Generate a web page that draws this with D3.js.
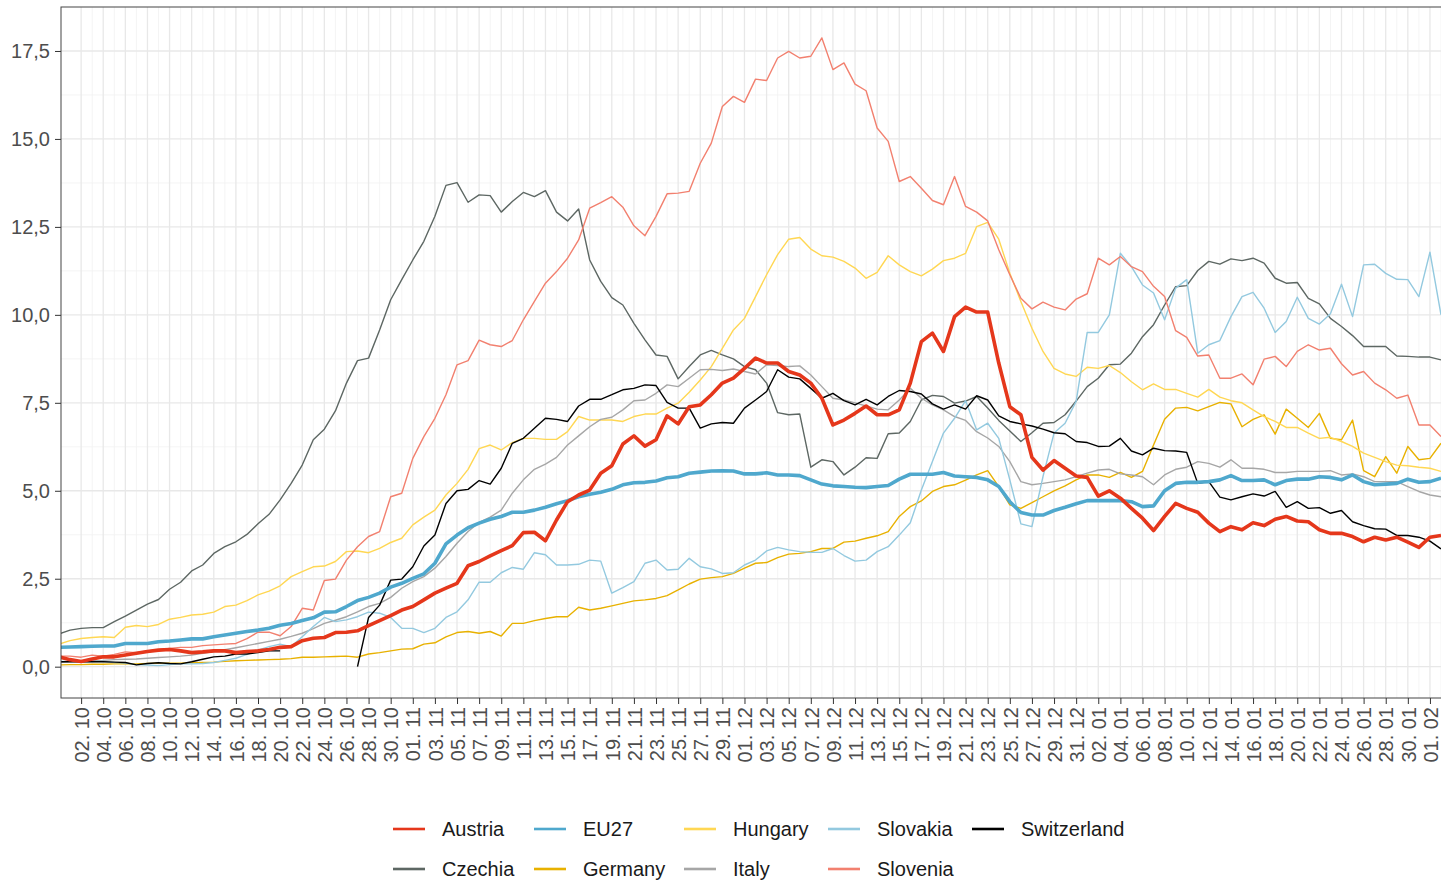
<!DOCTYPE html>
<html>
<head>
<meta charset="utf-8">
<title>chart</title>
<script src="https://cdn.jsdelivr.net/npm/d3@7"></script>
<style>
  body { margin: 0; background: #fff; font-family: "Liberation Sans", Arial, sans-serif; }
  svg { display: block; }
</style>
</head>
<body>
<script>
// ---- data (one value per day, 30.09 to 02.02) ----
var startDay = new Date(Date.UTC(2020, 8, 30));
var endDay = new Date(Date.UTC(2021, 1, 2));
var days = d3.utcDay.range(startDay, d3.utcDay.offset(endDay, 1));
var yTicks = [0, 2.5, 5, 7.5, 10, 12.5, 15, 17.5];
var yMinor = [1.25, 3.75, 6.25, 8.75, 11.25, 13.75, 16.25];

var austria = [
0.28,0.2,0.15,0.22,0.28,0.28,0.33,0.38,0.43,0.47,
0.49,0.45,0.4,0.42,0.45,0.45,0.4,0.43,0.45,0.49,
0.55,0.57,0.74,0.81,0.83,0.97,0.98,1.02,1.17,1.31,
1.45,1.61,1.71,1.9,2.09,2.23,2.37,2.87,2.99,3.15,
3.3,3.44,3.81,3.82,3.58,4.17,4.69,4.88,5.02,5.5,
5.71,6.33,6.56,6.27,6.45,7.13,6.9,7.39,7.44,7.73,
8.06,8.2,8.48,8.77,8.63,8.63,8.39,8.29,8.06,7.63,
6.87,7.01,7.2,7.41,7.16,7.16,7.3,8.06,9.24,9.48,
8.96,9.95,10.22,10.08,10.08,8.63,7.39,7.16,5.95,5.59,
5.86,5.64,5.42,5.38,4.85,5.0,4.79,4.5,4.22,3.87,
4.27,4.64,4.5,4.39,4.08,3.84,3.98,3.89,4.09,4.01,
4.19,4.27,4.14,4.12,3.89,3.79,3.79,3.7,3.55,3.68,
3.6,3.68,3.54,3.39,3.68,3.73];

var czechia = [
0.93,1.04,1.09,1.11,1.11,1.28,1.44,1.61,1.78,1.91,
2.2,2.4,2.72,2.89,3.22,3.41,3.55,3.76,4.06,4.33,
4.74,5.21,5.73,6.45,6.75,7.27,8.06,8.7,8.77,9.57,
10.43,11.0,11.56,12.09,12.8,13.68,13.76,13.2,13.41,13.39,
12.92,13.22,13.48,13.36,13.53,12.92,12.67,13.01,11.56,10.95,
10.49,10.28,9.76,9.29,8.86,8.82,8.18,8.53,8.86,8.99,
8.86,8.75,8.53,8.44,8.06,7.22,7.16,7.18,5.67,5.88,
5.83,5.45,5.67,5.94,5.92,6.62,6.64,6.97,7.58,7.71,
7.68,7.49,7.55,7.68,7.35,7.0,6.7,6.4,6.65,6.92,
6.94,7.16,7.55,7.96,8.2,8.58,8.6,8.91,9.38,9.72,
10.28,10.8,10.83,11.26,11.52,11.44,11.59,11.54,11.61,11.47,
11.04,10.9,10.92,10.47,10.31,9.9,9.67,9.41,9.1,9.1,
9.1,8.83,8.82,8.8,8.8,8.72];

var eu27 = [
0.55,0.56,0.57,0.58,0.59,0.59,0.66,0.66,0.66,0.71,
0.73,0.76,0.79,0.79,0.85,0.9,0.95,1.0,1.04,1.09,
1.18,1.23,1.31,1.39,1.55,1.56,1.71,1.88,1.97,2.09,
2.26,2.37,2.51,2.64,2.94,3.49,3.74,3.95,4.08,4.19,
4.27,4.39,4.39,4.45,4.53,4.63,4.72,4.83,4.9,4.96,
5.04,5.17,5.23,5.24,5.28,5.37,5.4,5.5,5.53,5.56,
5.57,5.56,5.48,5.48,5.51,5.45,5.45,5.43,5.31,5.19,
5.14,5.12,5.1,5.09,5.12,5.15,5.33,5.47,5.47,5.47,
5.52,5.42,5.4,5.38,5.31,5.12,4.69,4.38,4.31,4.31,
4.44,4.53,4.63,4.72,4.72,4.72,4.72,4.69,4.55,4.57,
5.0,5.21,5.24,5.24,5.26,5.31,5.43,5.29,5.29,5.31,
5.17,5.29,5.33,5.33,5.4,5.38,5.31,5.45,5.26,5.17,
5.19,5.21,5.33,5.24,5.26,5.36];

var germany = [
0.05,0.06,0.06,0.07,0.07,0.08,0.09,0.08,0.09,0.1,
0.1,0.1,0.11,0.12,0.13,0.15,0.17,0.18,0.19,0.2,
0.21,0.23,0.27,0.27,0.28,0.29,0.3,0.27,0.36,0.4,
0.45,0.5,0.51,0.64,0.68,0.85,0.97,1.0,0.95,1.0,
0.87,1.23,1.23,1.31,1.37,1.42,1.42,1.69,1.61,1.66,
1.73,1.8,1.87,1.9,1.94,2.02,2.18,2.35,2.49,2.53,
2.56,2.65,2.8,2.94,2.96,3.1,3.2,3.22,3.27,3.36,
3.36,3.54,3.57,3.65,3.72,3.84,4.27,4.55,4.71,4.98,
5.12,5.17,5.3,5.45,5.57,5.12,4.6,4.5,4.66,4.83,
5.0,5.14,5.31,5.45,5.45,5.38,5.52,5.38,5.55,6.3,
7.03,7.35,7.37,7.27,7.39,7.51,7.47,6.82,7.03,7.16,
6.61,7.32,7.06,6.8,7.2,6.49,6.45,7.01,5.57,5.4,
5.97,5.5,6.26,5.88,5.92,6.35];

var hungary = [
0.64,0.74,0.8,0.83,0.85,0.83,1.12,1.17,1.14,1.2,
1.35,1.4,1.47,1.49,1.55,1.71,1.75,1.88,2.04,2.15,
2.3,2.56,2.7,2.84,2.86,2.99,3.27,3.29,3.24,3.36,
3.53,3.65,4.03,4.25,4.45,4.88,5.21,5.61,6.2,6.3,
6.16,6.37,6.49,6.49,6.46,6.46,6.68,7.11,7.01,7.01,
7.01,6.97,7.11,7.18,7.18,7.35,7.49,7.8,8.15,8.53,
9.05,9.57,9.9,10.52,11.14,11.71,12.15,12.2,11.87,11.68,
11.64,11.52,11.33,11.04,11.21,11.68,11.42,11.23,11.11,11.3,
11.54,11.61,11.75,12.51,12.63,12.15,11.18,10.38,9.62,8.96,
8.48,8.32,8.25,8.51,8.48,8.56,8.36,8.1,7.87,8.04,
7.88,7.88,7.77,7.66,7.88,7.66,7.56,7.5,7.3,7.11,
6.97,6.8,6.8,6.64,6.49,6.52,6.4,6.26,6.07,5.95,
5.83,5.73,5.71,5.67,5.64,5.55];

var italy = [
0.12,0.14,0.16,0.17,0.18,0.2,0.21,0.22,0.24,0.26,
0.28,0.3,0.33,0.38,0.43,0.48,0.54,0.6,0.66,0.72,
0.78,0.86,0.95,1.08,1.23,1.32,1.42,1.56,1.71,1.8,
1.97,2.23,2.42,2.56,2.8,3.13,3.51,3.84,4.1,4.25,
4.45,4.93,5.31,5.61,5.76,5.95,6.3,6.56,6.82,7.03,
7.09,7.3,7.56,7.58,7.77,8.01,7.96,8.2,8.44,8.45,
8.42,8.46,8.39,8.32,8.58,8.56,8.53,8.55,8.29,7.96,
7.63,7.58,7.5,7.41,7.32,7.3,7.58,7.91,7.63,7.44,
7.3,7.11,7.0,6.68,6.5,6.26,5.83,5.26,5.17,5.21,
5.26,5.31,5.4,5.5,5.59,5.61,5.48,5.45,5.4,5.17,
5.45,5.61,5.67,5.83,5.78,5.67,5.88,5.64,5.64,5.61,
5.52,5.52,5.55,5.55,5.55,5.57,5.45,5.48,5.4,5.26,
5.26,5.26,5.12,4.98,4.88,4.83];

var slovakia = [
0.15,0.15,0.14,0.14,0.15,0.12,0.1,0.06,0.05,0.03,
0.06,0.08,0.08,0.09,0.12,0.18,0.24,0.35,0.47,0.57,
0.64,0.57,0.85,1.14,1.4,1.28,1.33,1.42,1.55,1.52,
1.4,1.09,1.09,0.97,1.09,1.4,1.56,1.9,2.4,2.4,
2.67,2.82,2.77,3.24,3.18,2.89,2.89,2.91,3.03,3.0,
2.09,2.25,2.42,2.94,3.03,2.75,2.77,3.08,2.84,2.78,
2.65,2.67,2.89,3.03,3.29,3.39,3.32,3.27,3.25,3.25,
3.36,3.16,3.0,3.03,3.27,3.41,3.74,4.09,5.02,5.83,
6.64,7.06,7.56,6.73,6.92,6.49,5.31,4.06,3.98,5.4,
6.64,6.92,7.54,9.5,9.5,10.0,11.75,11.37,10.85,10.62,
9.86,10.76,11.0,8.91,9.15,9.27,9.95,10.52,10.64,10.19,
9.5,9.81,10.5,9.9,9.74,10.03,10.87,9.95,11.42,11.44,
11.18,11.01,11.0,10.52,11.78,10.0];

var slovenia = [
0.3,0.3,0.27,0.33,0.3,0.35,0.42,0.4,0.45,0.48,
0.52,0.55,0.55,0.6,0.62,0.64,0.66,0.8,0.98,0.98,
0.88,1.14,1.66,1.61,2.45,2.49,3.03,3.41,3.7,3.84,
4.83,4.93,5.92,6.54,7.06,7.73,8.58,8.7,9.28,9.15,
9.1,9.27,9.86,10.38,10.9,11.23,11.61,12.13,13.03,13.19,
13.36,13.06,12.53,12.25,12.8,13.44,13.46,13.51,14.31,14.88,
15.92,16.21,16.04,16.7,16.66,17.3,17.49,17.3,17.35,17.87,
16.97,17.16,16.56,16.37,15.31,14.93,13.79,13.93,13.6,13.25,
13.13,13.93,13.08,12.92,12.67,11.85,11.14,10.47,10.17,10.36,
10.22,10.14,10.45,10.6,11.61,11.42,11.66,11.37,11.23,10.81,
10.52,9.55,9.36,8.83,8.86,8.2,8.2,8.32,8.01,8.74,
8.82,8.53,8.96,9.15,9.0,9.05,8.61,8.29,8.39,8.06,
7.87,7.63,7.72,6.87,6.87,6.54];

// null = no value reported (gap in the line)
var switzerland = [
0.14,0.14,0.14,0.14,0.14,0.13,0.12,0.05,0.09,0.11,
0.09,0.08,0.14,0.21,0.28,0.3,0.36,0.36,0.4,0.45,
0.45,null,null,null,null,null,null,0.0,1.4,1.75,
2.46,2.49,2.84,3.43,3.74,4.64,5.0,5.04,5.29,5.19,
5.64,6.35,6.49,6.78,7.06,7.03,6.97,7.41,7.6,7.6,
7.73,7.87,7.91,8.01,7.99,7.51,7.35,7.35,6.78,6.9,
6.94,6.92,7.35,7.58,7.82,8.44,8.23,8.18,7.91,7.63,
7.77,7.56,7.44,7.6,7.44,7.68,7.85,7.82,7.75,7.47,
7.32,7.44,7.32,7.7,7.58,7.13,6.97,6.9,6.84,6.75,
6.65,6.62,6.4,6.37,6.26,6.27,6.49,6.13,6.02,6.21,
6.14,6.13,6.09,5.21,5.26,4.82,4.74,4.83,4.91,4.85,
4.98,4.53,4.69,4.5,4.52,4.36,4.44,4.12,4.01,3.92,
3.91,3.73,3.73,3.68,3.57,3.35];

// series: name, values, colour, line width (draw order: thin first, then the thick ones)
var series = [
  {name: "Czechia",     values: czechia,     color: "#5d6763", width: 1.4},
  {name: "Germany",     values: germany,     color: "#e8b100", width: 1.4},
  {name: "Hungary",     values: hungary,     color: "#ffd753", width: 1.4},
  {name: "Italy",       values: italy,       color: "#a6a6a6", width: 1.4},
  {name: "Slovakia",    values: slovakia,    color: "#93c9df", width: 1.4},
  {name: "Slovenia",    values: slovenia,    color: "#f2806f", width: 1.4},
  {name: "Switzerland", values: switzerland, color: "#000000", width: 1.4},
  {name: "EU27",        values: eu27,        color: "#4fa8cd", width: 3.6},
  {name: "Austria",     values: austria,     color: "#e5371b", width: 3.6}
];
// legend is filled column by column, two rows
var legendOrder = ["Austria","Czechia","EU27","Germany","Hungary","Italy","Slovakia","Slovenia","Switzerland"];
var legendColX = [393, 534, 684, 828, 972];

// ---- layout ----
var width = 1441, height = 881;
var panel = {left: 61, top: 7, right: 1441, bottom: 698};

var svg = d3.select("body").append("svg").attr("width", width).attr("height", height);

var x = d3.scaleUtc().domain([startDay, endDay]).range([59, 1441]);
var y = d3.scaleLinear().domain([-0.89, 18.75]).range([panel.bottom, panel.top]);

// grid
var grid = svg.append("g");
var majorDays = days.filter(function(d, i){ return i >= 2 && i % 2 === 0; });
var minorDays = days.filter(function(d, i){ return i >= 3 && i % 2 === 1; });

grid.selectAll(".vminor").data(minorDays).enter().append("line")
  .attr("x1", function(d){ return x(d); }).attr("x2", function(d){ return x(d); })
  .attr("y1", panel.top).attr("y2", panel.bottom)
  .attr("stroke", "#f1f1f1").attr("stroke-width", 0.8);
grid.selectAll(".hminor").data(yMinor).enter().append("line")
  .attr("x1", panel.left).attr("x2", panel.right)
  .attr("y1", function(d){ return y(d); }).attr("y2", function(d){ return y(d); })
  .attr("stroke", "#f1f1f1").attr("stroke-width", 0.8);
grid.selectAll(".vmajor").data(majorDays).enter().append("line")
  .attr("x1", function(d){ return x(d); }).attr("x2", function(d){ return x(d); })
  .attr("y1", panel.top).attr("y2", panel.bottom)
  .attr("stroke", "#e8e8e8").attr("stroke-width", 1.3);
grid.selectAll(".hmajor").data(yTicks).enter().append("line")
  .attr("x1", panel.left).attr("x2", panel.right)
  .attr("y1", function(d){ return y(d); }).attr("y2", function(d){ return y(d); })
  .attr("stroke", "#e8e8e8").attr("stroke-width", 1.3);

// lines
svg.append("clipPath").attr("id", "clip").append("rect")
  .attr("x", panel.left).attr("y", panel.top)
  .attr("width", panel.right - panel.left).attr("height", panel.bottom - panel.top);

var line = d3.line()
  .defined(function(v){ return v !== null; })
  .x(function(v, i){ return x(days[i]); })
  .y(function(v){ return y(v); });

svg.append("g").attr("clip-path", "url(#clip)")
  .selectAll("path").data(series).enter().append("path")
  .attr("d", function(s){ return line(s.values); })
  .attr("fill", "none")
  .attr("stroke", function(s){ return s.color; })
  .attr("stroke-width", function(s){ return s.width; })
  .attr("stroke-linejoin", "round");

// panel border
svg.append("rect")
  .attr("x", panel.left).attr("y", panel.top)
  .attr("width", panel.right - panel.left + 2).attr("height", panel.bottom - panel.top)
  .attr("fill", "none").attr("stroke", "#444").attr("stroke-width", 1);

// y axis
var yAxis = svg.append("g").attr("transform", "translate(" + panel.left + ",0)")
  .call(d3.axisLeft(y).tickValues(yTicks).tickSize(6).tickPadding(5)
    .tickFormat(function(d){ return d3.format(".1f")(d).replace(".", ","); }));
yAxis.select(".domain").remove();
yAxis.selectAll("line").attr("stroke", "#333");
yAxis.selectAll("text").attr("fill", "#4d4d4d").style("font-size", "20px")
  .style("font-family", "'Liberation Sans', Arial, sans-serif");

// x axis
var xAxis = svg.append("g").attr("transform", "translate(0," + panel.bottom + ")")
  .call(d3.axisBottom(x).tickValues(majorDays).tickSize(6)
    .tickFormat(d3.utcFormat("%d. %m")));
xAxis.select(".domain").remove();
xAxis.selectAll("line").attr("stroke", "#333");
xAxis.selectAll("text")
  .attr("fill", "#4d4d4d").style("font-size", "20px")
  .style("font-family", "'Liberation Sans', Arial, sans-serif")
  .attr("text-anchor", "end")
  .attr("transform", "translate(0,9) rotate(-90)")
  .attr("x", 0).attr("y", 0).attr("dx", "0").attr("dy", "0.36em");

// legend
var legend = svg.append("g");
legendOrder.forEach(function(name, i){
  var s = series.filter(function(t){ return t.name === name; })[0];
  var col = Math.floor(i / 2), row = i % 2;
  var lx = legendColX[col], ly = 829 + row * 40;
  legend.append("line")
    .attr("x1", lx).attr("x2", lx + 32).attr("y1", ly).attr("y2", ly)
    .attr("stroke", s.color).attr("stroke-width", 2.6);
  legend.append("text")
    .attr("x", lx + 49).attr("y", ly).attr("dy", "0.36em")
    .style("font-size", "20px").attr("fill", "#1a1a1a")
    .text(name);
});
</script>
</body>
</html>
